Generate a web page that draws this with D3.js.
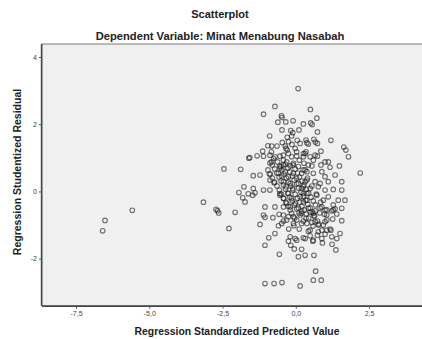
<!DOCTYPE html>
<html>
<head>
<meta charset="utf-8">
<script src="https://cdn.jsdelivr.net/npm/d3@7"></script>
<style>
  html, body { margin: 0; padding: 0; background: #fff; }
  svg { display: block; font-family: "Liberation Sans", Arial, sans-serif; }
</style>
</head>
<body>
<div id="chart"></div>
<script>
const chartTitle = 'Scatterplot';
const chartSubtitle = 'Dependent Variable: Minat Menabung Nasabah';
const xLabel = 'Regression Standardized Predicted Value';
const yLabel = 'Regression Studentized Residual';

const xTicks = [-7.5, -5.0, -2.5, 0.0, 2.5];
const yTicks = [-2, 0, 2, 4];

// [standardized predicted value, studentized residual]
const cases = [
  // far left
  [-6.59,-1.17],[-6.51,-0.86],[-5.58,-0.56],[-3.15,-0.32],[-2.72,-0.53],[-2.67,-0.57],[-2.63,-0.64],
  [-2.45,0.67],[-1.88,0.66],[-2.07,-0.62],[-2.28,-1.10],[-1.77,0.14],[-1.94,-0.03],[-1.81,-0.19],
  [-1.73,-0.31],[-1.62,-0.07],[-1.60,0.99],
  // upper part
  [0.08,3.06],[-0.71,2.53],[-1.10,2.30],[0.50,2.44],[-0.49,2.25],[-0.47,2.20],[0.72,2.18],
  [-0.61,2.06],[-0.34,2.07],[-0.09,2.10],[0.26,2.01],[0.51,2.04],[0.56,1.99],[-0.47,1.83],
  [-0.17,1.81],[-0.10,1.75],[0.11,1.83],[0.74,1.77],[-0.89,1.65],[-0.29,1.61],[-0.14,1.65],
  [0.05,1.52],[0.35,1.53],[0.62,1.55],[0.67,1.47],[0.74,1.43],[0.43,1.41],[1.20,1.52],
  [-0.95,1.36],[-0.64,1.35],[-0.46,1.46],[-0.33,1.28],[-0.29,1.23],[-0.13,1.40],[0.03,1.18],
  [0.35,1.18],[0.86,1.20],[1.64,1.32],[1.71,1.23],[-1.13,1.20],[-0.83,1.18],
  [-1.57,1.01],[-1.32,1.06],[-1.45,0.47],[-0.90,0.52],[-0.88,0.85],[-0.71,1.03],[-0.51,0.74],
  [-0.19,0.76],[0.03,1.05],[0.32,1.13],[0.55,0.76],[0.60,0.93],[0.74,1.05],[0.86,0.79],
  [1.11,0.88],[1.17,0.72],[1.49,0.76],[1.80,1.03],[2.20,0.55],[-1.45,0.09],[-1.39,-0.04],
  [-1.10,0.04],[-1.05,-0.46],[-0.71,-0.46],
  [-0.82,1.35],[-0.36,1.35],[-0.25,1.48],[-0.02,1.28],[0.15,1.43],[-1.10,1.05],[-0.88,1.08],
  [-0.76,0.98],[-0.54,1.05],[-0.42,1.08],[-0.25,1.13],[-0.14,1.03],[0.12,0.93],[0.26,1.03],
  [-0.82,0.88],[-0.42,0.79],[-0.31,0.88],[-0.08,0.84],[0.09,0.74],[-1.22,0.49],[-0.54,0.69],
  [-0.59,0.54],[-0.48,0.46],[-0.36,0.59],[-0.25,0.44],[-0.08,0.54],[0.03,0.39],[0.20,0.54],
  [0.32,0.64],[-0.88,0.34],[-0.74,0.26],[-0.42,0.29],[-0.33,0.14],[-0.19,0.24],[-0.10,0.09],
  [0.09,0.24],[0.20,0.09],[0.32,0.29],[-0.88,0.04],[-0.54,-0.06],[-0.25,-0.06],
  [0.38,1.45],[0.26,1.13],[0.49,1.03],[0.66,1.08],[0.28,0.84],[0.43,0.79],[1.00,0.88],
  [0.38,0.59],[0.60,0.54],[0.89,0.59],[1.00,0.44],[1.34,0.49],[0.38,0.34],[0.66,0.29],
  [0.83,0.24],[1.11,0.29],[1.57,0.29],[0.26,0.14],[0.49,0.09],[0.77,0.14],[1.00,0.04],
  [1.28,0.06],[1.57,0.04],[0.38,-0.06],
  // lower part
  [-1.47,-0.11],[-1.10,-0.70],[-0.42,-0.70],[-0.14,-0.65],[-0.48,-0.95],[-0.08,-0.95],[-0.71,-1.25],
  [-0.19,-1.35],[0.03,-1.45],[-0.54,-0.11],[-0.42,-0.21],[-0.31,-0.35],[-0.14,-0.21],[-0.02,-0.35],
  [0.15,-0.16],[0.26,-0.31],
  [0.26,-0.06],[0.38,-0.26],[0.20,-0.65],[0.60,-0.65],[0.72,-0.11],[0.94,-0.26],[1.11,-0.16],
  [1.28,-0.40],[1.45,-0.26],[1.06,-0.70],[0.66,-0.90],[0.94,-1.00],[0.38,-0.95],[0.49,-1.15],
  [0.77,-1.20],[1.06,-1.15],[1.23,-1.35],[1.51,-1.25],[0.32,-1.40],[0.60,-1.45],[0.89,-1.40],
  [-1.05,-2.74],[-0.74,-2.74],[-0.47,-2.71],[0.15,-2.81],[0.60,-2.64],[0.87,-2.64],[0.68,-2.37],
  [-0.56,-1.87],[0.09,-1.94],[0.32,-1.90],[0.62,-1.90],[-1.05,-1.60],[-0.92,-1.38],[-1.22,-0.98],
  [-1.05,-0.77],[1.37,-1.74],[1.40,-1.40],[1.20,-1.15],[0.91,-1.53],[1.24,-1.57],[1.57,-0.87],
  [1.57,-0.50],[1.28,-0.55],[1.40,-0.67],[1.68,-0.26],[1.00,-0.90],[1.00,-1.27],[0.89,-0.46],
  [-0.78,-0.78],[-0.57,-0.68],[-0.42,-0.88],[-0.59,-1.02],[-0.24,-1.12],[-0.25,-1.48],[-0.17,-1.60],
  [-0.05,-1.71],[0.20,-1.72],[-0.02,-1.40],[0.26,-1.38],[0.58,-1.48],[-0.06,-1.02],[0.20,-0.95],
  [0.12,-1.12],[0.43,-1.18],[0.49,-1.32],[0.74,-1.30],[0.89,-1.15],[1.17,-1.12],[0.77,-1.00],
  [0.55,-0.92],[0.35,-0.80],[0.62,-0.72],[0.74,-0.88],[1.06,-0.85],[1.26,-0.82],[0.98,-0.68],
  [1.23,-0.58],[1.34,-0.52],[1.06,-0.55],[-0.31,-0.85],[-0.25,-0.75],[-0.08,-0.75],[0.03,-0.85],
  [-0.42,-0.46],[-0.19,-0.46],[0.09,-0.49],[0.20,-0.59],[0.43,-0.50],[0.66,-0.58],[0.83,-0.49],
  [0.15,-0.70],[0.49,-0.62],
  // dense diagonal bands
  [-0.95,0.64],[-0.80,0.40],[-0.64,0.16],[-0.49,-0.08],[-0.34,-0.32],[-0.19,-0.55],[-0.04,-0.79],
  [-0.87,0.52],[-0.72,0.28],[-0.56,0.04],[-0.41,-0.20],[-0.26,-0.44],
  [-0.80,0.79],[-0.65,0.55],[-0.50,0.31],[-0.35,0.07],[-0.20,-0.17],[-0.05,-0.40],[0.11,-0.64],[0.26,-0.88],
  [-0.72,0.67],[-0.57,0.43],[-0.42,0.19],[-0.27,-0.05],[-0.12,-0.28],[0.03,-0.52],
  [-0.62,0.88],[-0.47,0.64],[-0.32,0.40],[-0.17,0.16],[-0.02,-0.08],[0.14,-0.32],[0.29,-0.55],[0.44,-0.79],[0.59,-1.03],
  [-0.55,0.76],[-0.40,0.52],[-0.25,0.28],[-0.10,0.04],[0.06,-0.20],[0.21,-0.44],[0.36,-0.67],
  [-0.42,0.93],[-0.27,0.70],[-0.12,0.46],[0.03,0.22],[0.18,-0.02],[0.34,-0.26],[0.49,-0.49],[0.64,-0.73],[0.79,-0.97],
  [-0.35,0.81],[-0.20,0.58],[-0.05,0.34],[0.10,0.10],[0.26,-0.14],[0.41,-0.38],[0.56,-0.61],
  [-0.09,0.79],[0.06,0.55],[0.21,0.31],[0.36,0.07],[0.52,-0.17],[0.67,-0.40],[0.82,-0.64],
  [-0.02,0.67],[0.13,0.43],[0.28,0.19],[0.44,-0.05],[0.60,-0.28],
  [0.25,0.64],[0.40,0.40],[0.55,0.16],[0.70,-0.08],[0.85,-0.32],[1.00,-0.55]
];

const W = 422, H = 339;
const plot = { left: 42, top: 44, right: 433, bottom: 305.7 };

const svg = d3.select('#chart').append('svg')
  .attr('width', W)
  .attr('height', H);

svg.append('rect').attr('width', W).attr('height', H).attr('fill', '#fff');

const x = d3.scaleLinear().domain([-7.5, 2.5]).range([76, 369]);
const y = d3.scaleLinear().domain([-2, 4]).range([258.7, 57]);

// plot background + frame
svg.append('rect')
  .attr('x', plot.left)
  .attr('y', plot.top)
  .attr('width', plot.right - plot.left)
  .attr('height', plot.bottom - plot.top)
  .attr('fill', '#f0f0f0')
  .attr('stroke', '#7a7a7a')
  .attr('stroke-width', 1);

const fmtX = d => d3.format('.1f')(d).replace('.', ',').replace('−', '-');
const fmtY = d => String(d);

const xAxis = svg.append('g')
  .attr('transform', `translate(0,${plot.bottom})`)
  .call(d3.axisBottom(x).tickValues(xTicks).tickSize(3).tickPadding(2).tickFormat(fmtX));
xAxis.select('.domain').attr('d', `M${plot.left},0.5H${W}`).attr('stroke', '#444').attr('stroke-width', 1.4);

const yAxis = svg.append('g')
  .attr('transform', `translate(${plot.left},0)`)
  .call(d3.axisLeft(y).tickValues(yTicks).tickSize(3).tickPadding(2).tickFormat(fmtY));
yAxis.select('.domain').attr('d', `M-0.5,${plot.top}V${plot.bottom}`).attr('stroke', '#444').attr('stroke-width', 1.4);

svg.selectAll('.tick line').attr('stroke', '#555');
svg.selectAll('.tick text')
  .attr('fill', '#444')
  .style('font-size', '7px')
  .style('font-family', '"Liberation Sans", Arial, sans-serif');

// points
svg.append('g')
  .selectAll('circle')
  .data(cases)
  .enter().append('circle')
  .attr('cx', d => x(d[0]))
  .attr('cy', d => y(d[1]))
  .attr('r', 2.3)
  .attr('fill', 'none')
  .attr('stroke', '#1e1e1e')
  .attr('stroke-opacity', 0.62)
  .attr('stroke-width', 1.1);

// titles
svg.append('text')
  .attr('x', 220).attr('y', 18)
  .attr('text-anchor', 'middle')
  .attr('font-weight', 'bold')
  .attr('font-size', '11px')
  .attr('fill', '#222')
  .text(chartTitle);

svg.append('text')
  .attr('x', 220).attr('y', 39.5)
  .attr('text-anchor', 'middle')
  .attr('font-weight', 'bold')
  .attr('font-size', '11.2px')
  .attr('fill', '#222')
  .text(chartSubtitle);

svg.append('text')
  .attr('x', 237).attr('y', 335)
  .attr('text-anchor', 'middle')
  .attr('font-weight', 'bold')
  .attr('font-size', '10.4px')
  .attr('fill', '#222')
  .text(xLabel);

svg.append('text')
  .attr('transform', 'translate(21,172) rotate(-90)')
  .attr('text-anchor', 'middle')
  .attr('font-weight', 'bold')
  .attr('font-size', '10.5px')
  .attr('fill', '#222')
  .text(yLabel);
</script>
</body>
</html>
